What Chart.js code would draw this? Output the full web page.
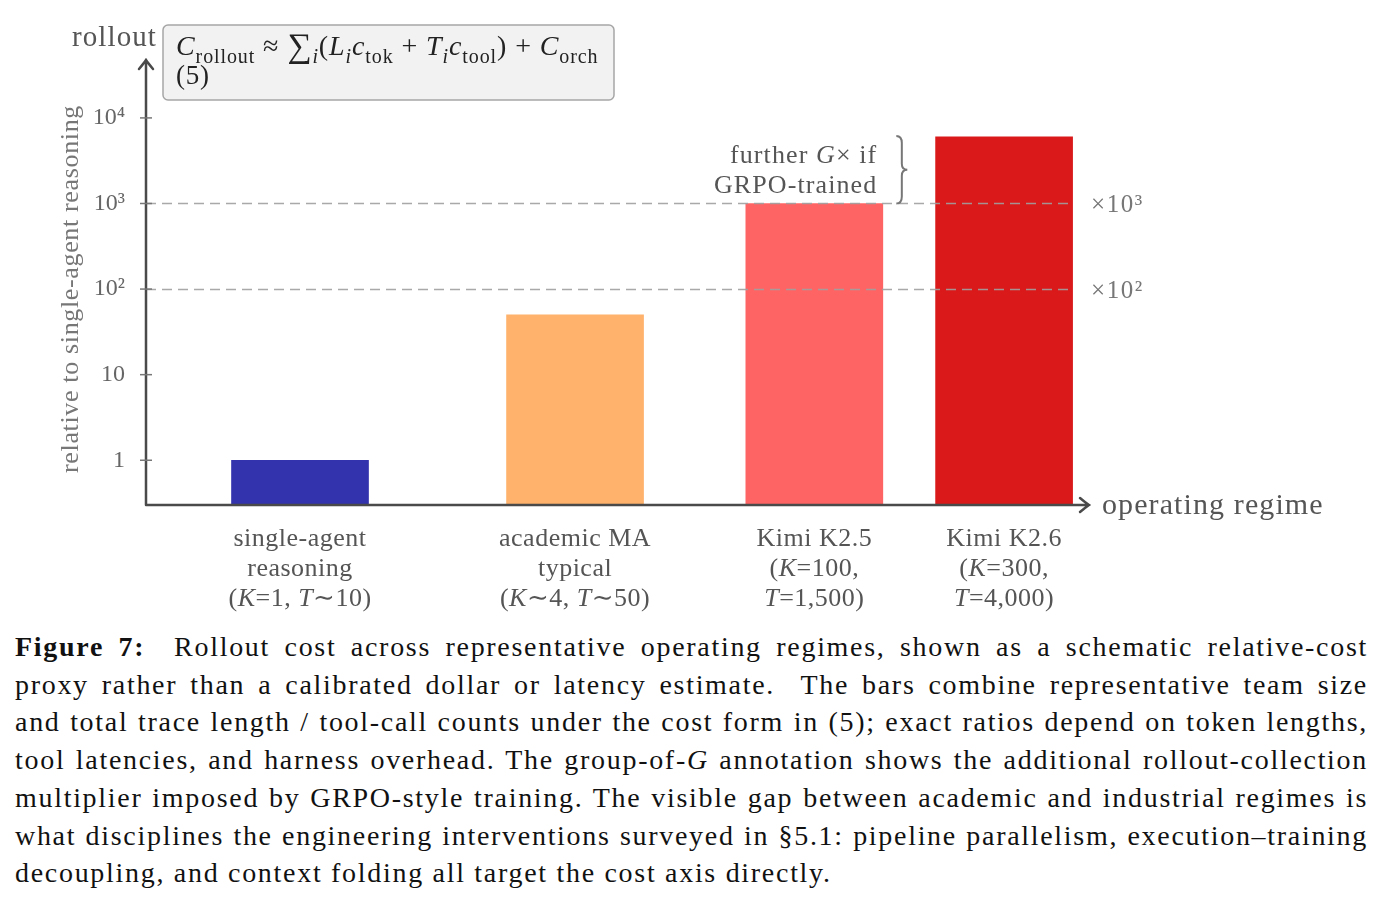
<!DOCTYPE html>
<html>
<head>
<meta charset="utf-8">
<title>Figure 7 - Rollout cost</title>
<script src="https://cdn.jsdelivr.net/npm/chart.js@4.4.1/dist/chart.umd.min.js"></script>
<style>
    body {
        margin: 0;
        background: #ffffff;
        width: 1385px;
        height: 909px;
        position: relative;
        overflow: hidden;
    }
    #costChart {
        position: absolute;
        left: 0;
        top: 0;
    }
    .caption {
        position: absolute;
        left: 15px;
        top: 628px;
        width: 1353px;
        font-family: 'Liberation Serif', serif;
        font-size: 28px;
        letter-spacing: 1.7px;
        line-height: 37.7px;
        color: #111;
    }
    .caption div {
        text-align: justify;
        text-align-last: justify;
        white-space: nowrap;
    }
    .caption div.last {
        text-align-last: left;
    }
</style>
</head>
<body>
<canvas id="costChart" width="1385" height="625"></canvas>

<div class="caption">
    <div><b>Figure 7:</b>&nbsp; Rollout cost across representative operating regimes, shown as a schematic relative-cost</div>
    <div>proxy rather than a calibrated dollar or latency estimate.&nbsp; The bars combine representative team size</div>
    <div>and total trace length / tool-call counts under the cost form in (5); exact ratios depend on token lengths,</div>
    <div>tool latencies, and harness overhead. The group-of-<i>G</i> annotation shows the additional rollout-collection</div>
    <div>multiplier imposed by GRPO-style training. The visible gap between academic and industrial regimes is</div>
    <div>what disciplines the engineering interventions surveyed in §5.1: pipeline parallelism, execution–training</div>
    <div class="last">decoupling, and context folding all target the cost axis directly.</div>
</div>

<script>
// ---- data ----
const regimeX = [1, 2, 2.87, 3.56];
const rolloutCost = [1, 50, 1000, 6000];
const barColors = ['#3333ad', '#feb26b', '#ff6464', '#da1a1a'];

// label lines, each line a list of [text, style] ('n' roman, 'i' italic)
const regimeLabels = [
    [[['single-agent', 'n']], [['reasoning', 'n']], [['(', 'n'], ['K', 'i'], ['=1, ', 'n'], ['T', 'i'], ['∼10)', 'n']]],
    [[['academic MA', 'n']], [['typical', 'n']], [['(', 'n'], ['K', 'i'], ['∼4, ', 'n'], ['T', 'i'], ['∼50)', 'n']]],
    [[['Kimi K2.5', 'n']], [['(', 'n'], ['K', 'i'], ['=100,', 'n']], [['T', 'i'], ['=1,500)', 'n']]],
    [[['Kimi K2.6', 'n']], [['(', 'n'], ['K', 'i'], ['=300,', 'n']], [['T', 'i'], ['=4,000)', 'n']]]
];

const yTickValues = [1, 10, 100, 1000, 10000];
const yTickLabels = ['1', '10', '10²', '10³', '10⁴'];

const refValues = [100, 1000];
const refLabels = ['×10²', '×10³'];

const SERIF = '"Liberation Serif", "DejaVu Serif", serif';

// Build a canvas font string for a style code
function fontFor(style, size) {
    const sub = style.startsWith('s');
    let px = sub ? Math.round(size * 0.7) : size;
    if (style === 'big') px = Math.round(size * 1.2);
    const italic = style.indexOf('i') !== -1 ? 'italic ' : '';
    return `${italic}${px}px ${SERIF}`;
}

// Draw a run of mixed-style text segments
function drawRich(ctx, segs, x, y, size, align, spacing) {
    ctx.letterSpacing = (spacing || 0) + 'px';
    let total = 0;
    segs.forEach(s => {
        ctx.font = fontFor(s[1], size);
        total += ctx.measureText(s[0]).width;
    });
    let cx = x;
    if (align === 'center') cx = x - total / 2;
    if (align === 'right') cx = x - total;
    ctx.textAlign = 'left';
    segs.forEach(s => {
        ctx.font = fontFor(s[1], size);
        const dy = s[1].startsWith('s') ? size * 0.28 : (s[1] === 'big' ? size * 0.08 : 0);
        ctx.fillText(s[0], cx, y + dy);
        cx += ctx.measureText(s[0]).width;
    });
    ctx.letterSpacing = '0px';
}

// Axis lines, arrows, annotations
const annotationPlugin = {
    id: 'figureAnnotations',
    afterDatasetsDraw(chart) {
        const ctx = chart.ctx;
        const area = chart.chartArea;
        const xs = chart.scales.x;
        const ys = chart.scales.y;
        const halfBar = 68;

        // dashed reference lines
        ctx.save();
        ctx.strokeStyle = 'rgba(160, 160, 160, 0.9)';
        ctx.lineWidth = 1.6;
        ctx.setLineDash([10, 6]);
        const lineEnd = xs.getPixelForValue(regimeX[3]) + halfBar;
        refValues.forEach((v, i) => {
            const py = Math.round(ys.getPixelForValue(v)) + 0.5;
            ctx.beginPath();
            ctx.moveTo(area.left, py);
            ctx.lineTo(lineEnd, py);
            ctx.stroke();

            ctx.fillStyle = '#777';
            ctx.textBaseline = 'middle';
            drawRich(ctx, [[refLabels[i], 'n']], lineEnd + 19, py + 2, 25, 'left', 1.5);
        });
        ctx.restore();
    },
    afterDraw(chart) {
        const ctx = chart.ctx;
        const area = chart.chartArea;
        const xs = chart.scales.x;
        const ys = chart.scales.y;

        ctx.save();
        ctx.textBaseline = 'alphabetic';

        // axis lines with open arrow heads
        ctx.strokeStyle = '#4a4a4a';
        ctx.lineWidth = 2.5;
        ctx.lineCap = 'round';
        const yTip = area.top - 2;
        const xTip = area.right + 9;
        ctx.beginPath();
        ctx.moveTo(area.left, area.bottom);
        ctx.lineTo(area.left, yTip);
        ctx.moveTo(area.left - 7, yTip + 9);
        ctx.quadraticCurveTo(area.left - 2, yTip + 3, area.left, yTip);
        ctx.quadraticCurveTo(area.left + 2, yTip + 3, area.left + 7, yTip + 9);
        ctx.moveTo(area.left, area.bottom);
        ctx.lineTo(xTip, area.bottom);
        ctx.moveTo(xTip - 9, area.bottom - 7);
        ctx.quadraticCurveTo(xTip - 3, area.bottom - 2, xTip, area.bottom);
        ctx.quadraticCurveTo(xTip - 3, area.bottom + 2, xTip - 9, area.bottom + 7);
        ctx.stroke();

        // y tick marks crossing the axis
        ctx.strokeStyle = '#777';
        ctx.lineWidth = 1.5;
        ctx.lineCap = 'butt';
        yTickValues.forEach(v => {
            const py = ys.getPixelForValue(v);
            ctx.beginPath();
            ctx.moveTo(area.left - 6, py);
            ctx.lineTo(area.left + 6, py);
            ctx.stroke();
        });

        // axis titles
        ctx.fillStyle = '#555';
        drawRich(ctx, [['rollout', 'n']], area.left + 11, 46, 29, 'right', 1.1);
        drawRich(ctx, [['operating regime', 'n']], xTip + 13, area.bottom + 9, 30, 'left', 1.1);

        ctx.save();
        ctx.translate(78, 289);
        ctx.rotate(-Math.PI / 2);
        ctx.fillStyle = '#777';
        drawRich(ctx, [['relative to single-agent reasoning', 'n']], 0, 0, 26, 'center', 0.65);
        ctx.restore();

        // category labels under the bars
        ctx.fillStyle = '#555';
        regimeLabels.forEach((lines, i) => {
            const px = xs.getPixelForValue(regimeX[i]);
            lines.forEach((segs, j) => {
                drawRich(ctx, segs, px, 546 + j * 30, 26, 'center', 0.5);
            });
        });

        // brace for the GRPO multiplier
        const bx = xs.getPixelForValue(regimeX[2]) + 82;
        const bTop = ys.getPixelForValue(rolloutCost[3]) - 1;
        const bBot = ys.getPixelForValue(rolloutCost[2]);
        const bMid = (bTop + bBot) / 2;
        const bw = 11;
        ctx.strokeStyle = '#777';
        ctx.lineWidth = 2;
        ctx.beginPath();
        ctx.moveTo(bx, bTop);
        ctx.quadraticCurveTo(bx + bw / 2, bTop, bx + bw / 2, bTop + 7);
        ctx.lineTo(bx + bw / 2, bMid - 6);
        ctx.quadraticCurveTo(bx + bw / 2, bMid, bx + bw, bMid);
        ctx.quadraticCurveTo(bx + bw / 2, bMid, bx + bw / 2, bMid + 6);
        ctx.lineTo(bx + bw / 2, bBot - 7);
        ctx.quadraticCurveTo(bx + bw / 2, bBot, bx, bBot);
        ctx.stroke();

        ctx.fillStyle = '#555';
        drawRich(ctx, [['further ', 'n'], ['G', 'i'], ['× if', 'n']], bx - 19, bMid - 7, 26, 'right', 1.1);
        drawRich(ctx, [['GRPO-trained', 'n']], bx - 19, bMid + 23, 26, 'right', 1.1);

        // formula box
        const fx = 163, fy = 25, fw = 451, fh = 75, r = 5;
        ctx.fillStyle = '#f2f2f2';
        ctx.strokeStyle = '#a6a6a6';
        ctx.lineWidth = 1.5;
        ctx.beginPath();
        ctx.moveTo(fx + r, fy);
        ctx.arcTo(fx + fw, fy, fx + fw, fy + fh, r);
        ctx.arcTo(fx + fw, fy + fh, fx, fy + fh, r);
        ctx.arcTo(fx, fy + fh, fx, fy, r);
        ctx.arcTo(fx, fy, fx + fw, fy, r);
        ctx.closePath();
        ctx.fill();
        ctx.stroke();

        ctx.fillStyle = '#222';
        drawRich(ctx, [
            ['C', 'i'], ['rollout', 's'], [' ≈ ', 'n'], ['∑', 'big'], ['i', 'si'],
            ['(', 'n'], ['L', 'i'], ['i', 'si'], ['c', 'i'], ['tok', 's'], [' + ', 'n'],
            ['T', 'i'], ['i', 'si'], ['c', 'i'], ['tool', 's'], [') + ', 'n'],
            ['C', 'i'], ['orch', 's']
        ], 176, 55, 28, 'left', 0.9);
        drawRich(ctx, [['(5)', 'n']], 176, 84, 27, 'left', 0.8);

        ctx.restore();
    }
};

function initializeCostChart() {
    const ctx = document.getElementById('costChart');
    if (!ctx) return;

    const points = regimeX.map((x, i) => ({ x: x, y: rolloutCost[i] }));

    new Chart(ctx, {
        type: 'bar',
        data: {
            datasets: [{
                label: 'Rollout cost',
                data: points,
                backgroundColor: barColors,
                borderWidth: 0,
                barThickness: 137
            }]
        },
        options: {
            responsive: false,
            animation: false,
            layout: {
                padding: { left: 0, top: 62, right: 305, bottom: 0 }
            },
            plugins: {
                legend: { display: false },
                tooltip: { enabled: false }
            },
            scales: {
                x: {
                    type: 'linear',
                    offset: false,
                    min: 0.44,
                    max: 3.836,
                    grid: { display: false, drawTicks: false, offset: false },
                    border: { display: false },
                    ticks: { display: false },
                    afterFit: function(scale) {
                        scale.height = 120;
                    }
                },
                y: {
                    type: 'logarithmic',
                    min: 0.32,
                    max: 45000,
                    grid: { display: false, drawTicks: false },
                    border: { display: false },
                    afterBuildTicks: function(scale) {
                        scale.ticks = yTickValues.map(v => ({ value: v }));
                    },
                    ticks: {
                        color: '#666',
                        padding: 21,
                        font: { family: SERIF, size: 24 },
                        callback: function(value) {
                            const idx = yTickValues.indexOf(value);
                            return idx === -1 ? '' : yTickLabels[idx];
                        }
                    },
                    afterFit: function(scale) {
                        scale.width = 146;
                    }
                }
            }
        },
        plugins: [annotationPlugin]
    });
}

document.addEventListener('DOMContentLoaded', function() {
    initializeCostChart();
});
</script>
</body>
</html>
